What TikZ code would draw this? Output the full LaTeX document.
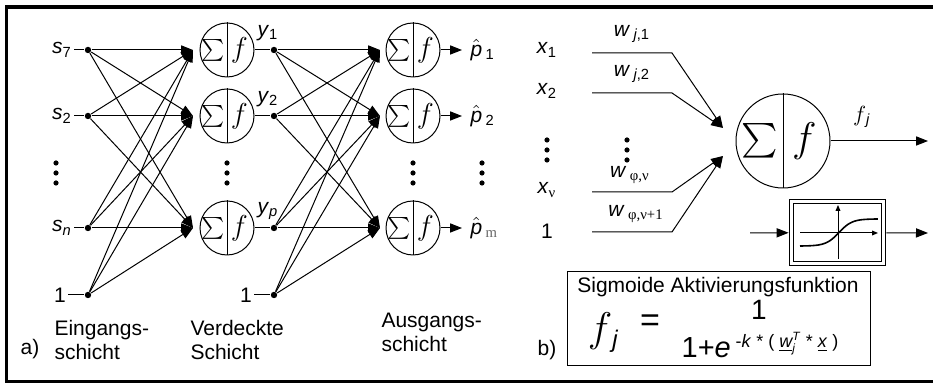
\documentclass[tikz,border=0pt]{standalone}
\usepackage{amsmath}
\usepackage{fontspec}
\setmainfont{Liberation Sans}
\newfontfamily\grk{Liberation Serif}
\usetikzlibrary{arrows.meta,calc,positioning}

% neuron: name, position, diameter, size of sum sign, size of f
\newcommand\neuron[5]{%
  \node[neur,minimum size=#3] (#1) at #2 {};
  \draw (#1.north) -- (#1.south);
  \node[inner sep=0pt,font=\fontsize{#4}{#4}\selectfont] at ($(#1.center)!0.5!(#1.west)$) {$\sum$};
  \node[inner sep=0pt,font=\fontsize{#5}{#5}\selectfont] at ($(#1.center)!0.45!(#1.east)$) {$f$};
}

\begin{document}
\begin{tikzpicture}[
  x=0.5pt,y=-0.5pt,
  font=\fontsize{10.5}{12}\selectfont,
  line width=0.5pt,
  >={Triangle[length=6pt,width=4.6pt]},
  dot/.style={circle,fill,inner sep=0pt,minimum size=3.2pt},
  neur/.style={circle,draw,inner sep=0pt},
  lab/.style={inner sep=1pt},
  layername/.style={align=left,inner sep=0pt,anchor=north west},
  conn/.style={->},
  frame/.style={line width=1.6pt},
  small/.style={-{Triangle[length=3pt,width=2.4pt]}},
]
\useasboundingbox (0,0) rectangle (933,383);
\draw[frame] (933,7) -- (6.5,7) -- (6.5,381.5) -- (933,381.5);

% ---- a) input layer ----
\node[dot] (i1) at (88,50) {};
\node[dot] (i2) at (88,116) {};
\node[dot] (in) at (88,228) {};
\node[dot] (ib) at (88,295) {};
\node[lab,left=5pt of i1] (ls1) {\textit{s}\textsubscript{7}};
\node[lab,left=5pt of i2] (ls2) {\textit{s}\textsubscript{2}};
\node[lab,left=5pt of in] (lsn) {\textit{s}\textsubscript{\textit{n}}};
\node[lab,left=8pt of ib] (lb1) {1};
\foreach \a/\b in {ls1/i1,ls2/i2,lsn/in,lb1/ib} \draw (\a) -- (\b);

% ---- a) hidden layer ----
\coordinate (t1) at (193,50);
\coordinate (t2) at (193,116);
\coordinate (tp) at (193,228);
\neuron{h1}{(227,50)}{27pt}{11}{15}
\neuron{h2}{(227,116)}{27pt}{11}{15}
\neuron{hp}{(227,228)}{27pt}{11}{15}
\node[dot] (o1) at (274,50) {};
\node[dot] (o2) at (274,116) {};
\node[dot] (op) at (274,228) {};
\node[dot] (hb) at (274,295) {};
\node[lab,left=8pt of hb] (lb2) {1};
\foreach \a/\b in {h1/o1,h2/o2,hp/op,lb2/hb} \draw (\a) -- (\b);
\node[lab] (ly1) at (268,33) {\textit{y}\textsubscript{1}};
\node[lab] (ly2) at (268,99) {\textit{y}\textsubscript{2}};
\node[lab] (lyp) at (268,211) {\textit{y}\textsubscript{\textit{p}}};
\foreach \s in {i1,i2,in,ib} \foreach \t in {t1,t2,tp} \draw[conn] (\s) -- (\t);

% ---- a) output layer ----
\coordinate (u1) at (380,50);
\coordinate (u2) at (380,116);
\coordinate (um) at (380,228);
\neuron{q1}{(413,50)}{27pt}{11}{15}
\neuron{q2}{(413,116)}{27pt}{11}{15}
\neuron{qm}{(413,228)}{27pt}{11}{15}
\foreach \s in {o1,o2,op,hb} \foreach \t in {u1,u2,um} \draw[conn] (\s) -- (\t);
\node[lab,anchor=west,inner sep=4pt] (lp1) at (462,50) {$\hat{\textit{p}}$\,\textsubscript{1}};
\node[lab,anchor=west,inner sep=4pt] (lp2) at (462,116) {$\hat{\textit{p}}$\,\textsubscript{2}};
\node[lab,anchor=west,inner sep=4pt] (lpm) at (462,228) {$\hat{\textit{p}}$\,\textsubscript{\grk\color{black!60}m}};
\foreach \a/\b in {q1/lp1,q2/lp2,qm/lpm} \draw[conn] (\a) -- (\b);

% dots between the rows
\foreach \x in {56,227,413,482} \foreach \y in {163,173,183} \fill (\x,\y) circle (1.3pt);

% layer names
\node[layername] (cin) at (54,320) {Eingangs-\\schicht};
\node[layername] (chid) at (190,320) {Verdeckte\\Schicht};
\node[layername] (cout) at (381,313) {Ausgangs-\\schicht};
\node[lab] (pa) at (30,349) {a)};

% ---- b) single neuron ----
\node[lab] (x1) at (547,50) {\textit{x}\textsubscript{1}};
\node[lab] (x2) at (547,91) {\textit{x}\textsubscript{2}};
\node[lab] (xv) at (547,190) {\textit{x}\textsubscript{\grk ν}};
\node[lab] (xb) at (547,231) {1};
\foreach \x in {547,627} \foreach \y in {140,150,160} \fill (\x,\y) circle (1.3pt);
\coordinate (tb1) at (723,128);
\coordinate (tb2) at (723,156);
\foreach \n/\y/\t in {1/53/tb1,2/93/tb1,v/192/tb2,b/232/tb2}{
  \coordinate (a\n) at (592,\y);
  \coordinate (k\n) at (672,\y);
  \draw[conn] (a\n) -- (k\n) -- (\t);
}
\node[lab] (w1) at (632,34) {\textit{w}\,\textsubscript{\textit{j},1}};
\node[lab] (w2) at (632,74) {\textit{w}\,\textsubscript{\textit{j},2}};
\node[lab] (wv) at (630,175) {\textit{w}\,\textsubscript{\grk φ,ν}};
\node[lab] (wb) at (636,214) {\textit{w}\,\textsubscript{\grk φ,ν+1}};
\neuron{nb}{(783,141)}{47pt}{19}{21}
\coordinate (fo) at (928,141);
\draw[conn] (nb) -- (fo);
\node[lab] (lfj) at (862,117) {$f$\textsubscript{\textit{j}}};

% sigmoid block
\node[draw,double,double distance=1.4pt,minimum width=46pt,minimum height=31pt] (sg) at (837.5,232.5) {};
\coordinate (sgi) at (750,233);
\coordinate (sgo) at (928,233);
\draw[conn,shorten >=1.2pt] (sgi) -- (sg);
\draw[conn,shorten <=1.2pt] (sg) -- (sgo);
\draw[small] (800,233) -- (878,233);
\draw[small] (838,259) -- (838,205);
\draw[line width=0.8pt,domain=-1:1,samples=40,smooth] plot ({839+39*\x},{232.5-13.5*tanh(3*\x)/tanh(3)});

% formula box
\node[draw,minimum width=151.5pt,minimum height=47pt] (sb) at (718.5,319) {};
\node[lab] (st) at (718,287) {Sigmoide Aktivierungsfunktion};
\node[lab] (ff) at (603,333) {\fontsize{22}{22}\selectfont$f$\fontsize{12}{12}\selectfont\raisebox{-3pt}{\textit{j}}};
\node[lab] (eq) at (650,323) {\fontsize{17}{17}\selectfont=};
\node[lab] (num) at (759,310) {\fontsize{14}{14}\selectfont 1};
\node[lab] (den) at (760,345) {\fontsize{14.5}{14.5}\selectfont 1+\textit{e}\,\raisebox{5pt}{\fontsize{9}{9}\selectfont -\textit{k} * ( $\underline{\textit{w}}^{\textit{T}}_{\textit{j}}$ * \underline{\textit{x}} )}};
\node[lab] (pb) at (547,350) {b)};
\end{tikzpicture}
\end{document}
